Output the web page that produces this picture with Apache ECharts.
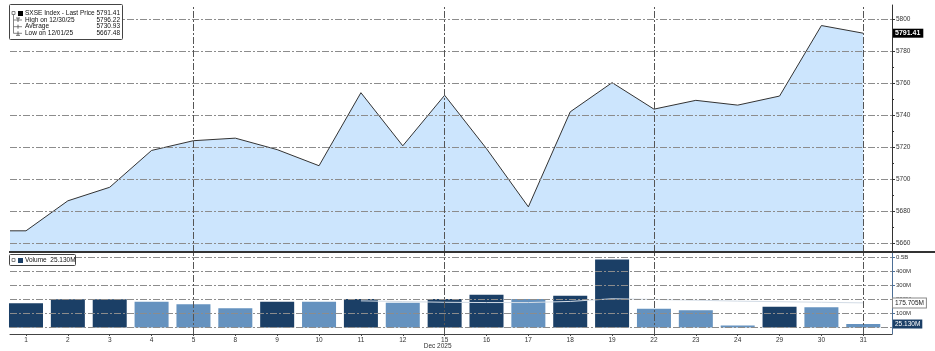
<!DOCTYPE html>
<html><head><meta charset="utf-8">
<script src="https://cdn.jsdelivr.net/npm/echarts@6/dist/echarts.min.js"></script>
<style>html,body{margin:0;padding:0;background:#fff}#c{width:935px;height:351px}</style>
</head><body><div id="c"></div>
<script>
// ---- data ----
const days = ['1','2','3','4','5','8','9','10','11','12','15','16','17','18','19','22','23','24','29','30','31'];
const prices = [5667.48,5686.3,5694.8,5717.9,5724.0,5725.6,5718.4,5708.3,5754.1,5720.8,5752.5,5719.0,5682.5,5742.1,5760.4,5743.8,5749.3,5746.3,5752.0,5796.22,5791.41];
const volumes = [173,201,202,184,166,138,184,184,204,177,204,234,204,227,485,133,123,14,149,145,25.13]; // millions
const volumeDark = [1,1,1,0,0,0,1,0,1,0,1,1,0,1,1,0,0,0,1,0,0];
const volumeMA = [null,null,null,null,null,null,null,null,190,185,180,178,178,186,205,200,195,188,184,180,175.705];
const priceTicks = [5660,5680,5700,5720,5740,5760,5780,5800];
const priceMinorTicks = [5670,5690,5710,5730,5750,5770,5790];
const volumeTicks = [100,200,300,400,500];
const volumeGrid = [0,100,200,300,400,500];
const weekLines = ['5','15','22','31'];
const legendRows = [
  ['SXSE Index - Last Price','5791.41'],
  ['High on 12/30/25','5796.22'],
  ['Average','5730.93'],
  ['Low on 12/01/25','5667.48']
];
const volumeLegend = 'Volume  25.130M';
const monthLabel = 'Dec 2025';

// ---- chart ----
const FONT = 'Liberation Sans';
const X_MIN = -0.382, X_MAX = 20.686;
const DARK = '#1b3f66', LIGHT = '#6592bf';
const idx = days.map((d,i)=>i);
const chart = echarts.init(document.getElementById('c'), null, {renderer:'canvas'});

const hDash = {color:'#8c8c8c', width:1, type:[7,2,2,2]};
const vDash = {color:'#555', width:1, type:[7,2,2,2]};

const priceData = [[X_MIN, prices[0]]].concat(prices.map((p,i)=>[i,p]));

const option = {
  animation:false,
  backgroundColor:'#fff',
  textStyle:{fontFamily:FONT},
  grid:[
    {left:10, right:43, top:5, height:247},
    {left:10, right:43, top:253, height:81}
  ],
  xAxis:[
    {type:'value', gridIndex:0, min:X_MIN, max:X_MAX, show:false, axisLine:{onZero:false}},
    {type:'value', gridIndex:1, min:X_MIN, max:X_MAX,
      axisLine:{show:true, onZero:false, lineStyle:{color:'#444', width:1}},
      axisTick:{show:true, length:2, customValues:idx, lineStyle:{color:'#444'}},
      axisLabel:{show:true, customValues:idx, formatter:v=>days[v], fontSize:6.5, color:'#333', margin:3, fontFamily:FONT},
      splitLine:{show:false}}
  ],
  yAxis:[
    {type:'value', gridIndex:0, position:'right', min:5654.2, max:5809.1,
      axisLine:{show:true, onZero:false, lineStyle:{color:'#333', width:1}},
      axisTick:{show:true, length:3, customValues:priceTicks, lineStyle:{color:'#333'}},
      axisLabel:{show:true, customValues:priceTicks, formatter:v=>String(v), fontSize:6.5, color:'#333', margin:4, fontFamily:FONT},
      splitLine:{show:false}},
    {type:'value', gridIndex:0, position:'right', min:5654.2, max:5809.1,
      axisLine:{show:false, onZero:false},
      axisTick:{show:true, length:2, customValues:priceMinorTicks, lineStyle:{color:'#333'}},
      axisLabel:{show:false}, splitLine:{show:false}},
    {type:'value', gridIndex:1, position:'right', min:-46, max:531,
      axisLine:{show:true, onZero:false, lineStyle:{color:'#4d6f96', width:1}},
      axisTick:{show:true, length:3, customValues:volumeTicks, lineStyle:{color:'#4d6f96'}},
      axisLabel:{show:true, customValues:volumeTicks, formatter:v=>v>=500?(v/1000)+'B':v+'M', fontSize:6, color:'#333', margin:4, fontFamily:FONT},
      splitLine:{show:false}}
  ],
  series:[
    {type:'line', name:'price', xAxisIndex:0, yAxisIndex:0, data:priceData, symbol:'none',
      lineStyle:{color:'#333', width:1}, areaStyle:{color:'#cce5fd', origin:'start', opacity:1}, z:2,
      markLine:{silent:true, symbol:'none', label:{show:false},
        data: priceTicks.map(v=>({yAxis:v, lineStyle:hDash}))
          .concat(weekLines.map(d=>({xAxis:days.indexOf(d), lineStyle:vDash})))}},
    {type:'line', name:'vgrid', xAxisIndex:1, yAxisIndex:2, data:[], symbol:'none', z:1,
      markLine:{silent:true, symbol:'none', label:{show:false},
        data: volumeGrid.map(v=>({yAxis:v, lineStyle:hDash}))
          .concat(weekLines.map(d=>({xAxis:days.indexOf(d), lineStyle:vDash})))}},
    {type:'bar', name:'volume', xAxisIndex:1, yAxisIndex:2, barWidth:34, z:3,
      data: volumes.map((v,i)=>({value:[i,v], itemStyle:{color: volumeDark[i]?DARK:LIGHT}}))},
    {type:'line', name:'volMA', xAxisIndex:1, yAxisIndex:2, symbol:'none', z:4,
      data: volumeMA.map((v,i)=>[i,v]), connectNulls:false,
      lineStyle:{color:'#d3dce6', width:1}}
  ]
};
chart.setOption(option);

// ---- annotations placed through the axes' scales ----
const yPrice = chart.convertToPixel({yAxisIndex:0}, prices[prices.length-1]);
const yMA = chart.convertToPixel({yAxisIndex:2}, volumeMA[volumeMA.length-1]);
const yVol = chart.convertToPixel({yAxisIndex:2}, volumes[volumes.length-1]);
const xMonth = chart.convertToPixel({xAxisIndex:1}, days.indexOf('15'));

const g = [];
// panel separator
g.push({type:'line', shape:{x1:9, y1:252, x2:935, y2:252}, style:{stroke:'#333', lineWidth:2}, z:50});
// right value boxes
g.push({type:'text', x:893, y:yPrice, z:60, style:{text:prices[prices.length-1].toFixed(2), fill:'#fff', backgroundColor:'#000', padding:[1,3,1,2], font:'bold 7px '+FONT, verticalAlign:'middle'}});
g.push({type:'text', x:893, y:yMA, z:60, style:{text:volumeMA[volumeMA.length-1].toFixed(3)+'M', fill:'#222', backgroundColor:'#fff', borderColor:'#888', borderWidth:1, padding:[1,2,1,2], font:'6.5px '+FONT, verticalAlign:'middle'}});
g.push({type:'text', x:893, y:yVol, z:60, style:{text:volumes[volumes.length-1].toFixed(3)+'M', fill:'#fff', backgroundColor:DARK, padding:[1,2,1,2], font:'6.5px '+FONT, verticalAlign:'middle'}});
// month label
g.push({type:'text', x:xMonth-7, y:346, z:60, style:{text:monthLabel, fill:'#333', font:'6.5px '+FONT, align:'center', verticalAlign:'middle'}});
// price legend
g.push({type:'rect', shape:{x:9.5, y:4.5, width:113, height:35, r:1}, style:{fill:'#fff', stroke:'#444', lineWidth:1}, z:70});
const rowY = [13.5, 20, 26.7, 33.3];
g.push({type:'line', shape:{x1:13.5, y1:rowY[0], x2:13.5, y2:rowY[3]}, style:{stroke:'#666', lineWidth:0.8}, z:71});
g.push({type:'rect', shape:{x:12, y:11.5, width:3, height:3}, style:{fill:'#fff', stroke:'#666', lineWidth:0.8}, z:72});
g.push({type:'rect', shape:{x:18, y:11, width:5, height:5}, style:{fill:'#000'}, z:72});
[1,2,3].forEach(k=>g.push({type:'line', shape:{x1:13.5, y1:rowY[k], x2:22, y2:rowY[k]}, style:{stroke:'#666', lineWidth:0.8}, z:71}));
g.push({type:'line', shape:{x1:18, y1:rowY[1]-2, x2:18, y2:rowY[1]+2}, style:{stroke:'#444', lineWidth:0.8}, z:72});
g.push({type:'line', shape:{x1:16, y1:rowY[1]-2, x2:20, y2:rowY[1]-2}, style:{stroke:'#444', lineWidth:0.8}, z:72});
g.push({type:'line', shape:{x1:18, y1:rowY[2]-2, x2:18, y2:rowY[2]+2}, style:{stroke:'#444', lineWidth:0.8}, z:72});
g.push({type:'line', shape:{x1:18, y1:rowY[3]-2, x2:18, y2:rowY[3]+2}, style:{stroke:'#444', lineWidth:0.8}, z:72});
g.push({type:'line', shape:{x1:16, y1:rowY[3]+2, x2:20, y2:rowY[3]+2}, style:{stroke:'#444', lineWidth:0.8}, z:72});
legendRows.forEach((r,k)=>{
  g.push({type:'text', x:25, y:rowY[k], z:72, style:{text:r[0], fill:'#111', font:'6.5px '+FONT, verticalAlign:'middle'}});
  g.push({type:'text', x:120, y:rowY[k], z:72, style:{text:r[1], fill:'#111', font:'6.5px '+FONT, align:'right', verticalAlign:'middle'}});
});
// volume legend
g.push({type:'rect', shape:{x:9.5, y:254.5, width:66, height:11, r:1}, style:{fill:'#fff', stroke:'#444', lineWidth:1}, z:70});
g.push({type:'rect', shape:{x:12, y:258.5, width:3, height:3}, style:{fill:'#fff', stroke:'#666', lineWidth:0.8}, z:72});
g.push({type:'rect', shape:{x:18, y:258, width:5, height:5}, style:{fill:DARK}, z:72});
g.push({type:'text', x:25, y:260.5, z:72, style:{text:volumeLegend, fill:'#111', font:'6.5px '+FONT, verticalAlign:'middle'}});

chart.setOption({graphic:g});
</script>
</body></html>
